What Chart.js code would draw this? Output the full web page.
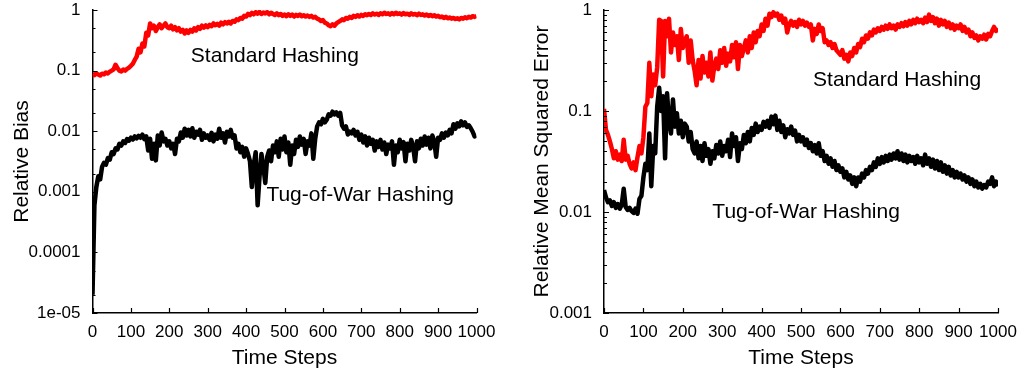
<!DOCTYPE html>
<html>
<head>
<meta charset="utf-8">
<script src="https://cdn.jsdelivr.net/npm/chart.js@4.4.0/dist/chart.umd.min.js"></script>
<style>
  html, body { margin: 0; padding: 0; background: #fff; }
  #wrap { position: relative; width: 1021px; height: 373px; }
  .panel { position: absolute; top: 0; height: 373px; }
  #leftPanel { left: 0; width: 510px; }
  #rightPanel { left: 510px; width: 511px; }
</style>
</head>
<body>
<div id="wrap">
  <div class="panel" id="leftPanel"><canvas id="biasChart"></canvas></div>
  <div class="panel" id="rightPanel"><canvas id="mseChart"></canvas></div>
</div>
<script>
// time steps 0..1000, every 5th step
const steps = Array.from({ length: 201 }, (_, i) => i * 5);

const seriesNames = ["Standard Hashing", "Tug-of-War Hashing"];

// left panel: relative bias
const biasStandard = [
  0.088, 0.084, 0.09, 0.086, 0.083, 0.089, 0.087, 0.093, 0.09, 0.096,
  0.1, 0.105, 0.125, 0.11, 0.1, 0.097, 0.104, 0.1, 0.107, 0.112,
  0.12, 0.13, 0.15, 0.17, 0.23, 0.2, 0.28, 0.25, 0.42, 0.38,
  0.6, 0.5, 0.55, 0.45, 0.52, 0.58, 0.5, 0.55, 0.6, 0.52,
  0.5, 0.55, 0.48, 0.52, 0.46, 0.5, 0.44, 0.47, 0.41, 0.46,
  0.42, 0.47, 0.44, 0.5, 0.46, 0.52, 0.49, 0.55, 0.51, 0.56,
  0.52, 0.57, 0.54, 0.6, 0.56, 0.59, 0.55, 0.62, 0.58, 0.63,
  0.6, 0.64, 0.6, 0.66, 0.64, 0.7, 0.68, 0.74, 0.72, 0.8,
  0.78, 0.86, 0.82, 0.9, 0.85, 0.92, 0.87, 0.93, 0.86, 0.91,
  0.88, 0.92, 0.85, 0.9, 0.86, 0.83, 0.88, 0.82, 0.86, 0.8,
  0.84, 0.79, 0.85, 0.8, 0.84, 0.78, 0.83, 0.8, 0.84, 0.79,
  0.82, 0.78, 0.81, 0.77, 0.8, 0.75, 0.77, 0.72, 0.7, 0.66,
  0.68, 0.62, 0.6, 0.56, 0.54, 0.58, 0.55, 0.6, 0.63, 0.66,
  0.7, 0.68, 0.74, 0.72, 0.77, 0.74, 0.8, 0.77, 0.82, 0.78,
  0.83, 0.8, 0.85, 0.82, 0.86, 0.83, 0.88, 0.84, 0.87, 0.83,
  0.88, 0.85, 0.9, 0.86, 0.88, 0.84, 0.89, 0.85, 0.9, 0.86,
  0.88, 0.84, 0.89, 0.85, 0.87, 0.83, 0.88, 0.84, 0.86, 0.82,
  0.87, 0.83, 0.85, 0.81, 0.84, 0.8, 0.83, 0.79, 0.82, 0.78,
  0.8, 0.76, 0.78, 0.74, 0.77, 0.73, 0.75, 0.72, 0.74, 0.71,
  0.73, 0.7, 0.74, 0.72, 0.76, 0.73, 0.77, 0.75, 0.79, 0.77,
  0.8
];
const biasTugOfWar = [
  0.00002, 0.0006, 0.0012, 0.0018, 0.0016, 0.0026, 0.003, 0.0028, 0.0036, 0.0034,
  0.0045, 0.0042, 0.0052, 0.005, 0.0062, 0.0058, 0.0068, 0.0064, 0.0074, 0.007,
  0.0078, 0.0073, 0.0082, 0.0076, 0.0084, 0.0078, 0.0088, 0.0074, 0.0082, 0.0048,
  0.0075, 0.0035, 0.0062, 0.0033, 0.0085, 0.0058, 0.0095, 0.0068, 0.0075, 0.0058,
  0.0068, 0.0052, 0.0062, 0.0042, 0.0075, 0.0068, 0.0095, 0.0078, 0.011, 0.0085,
  0.0105, 0.0082, 0.0112, 0.0078, 0.0098, 0.0088, 0.0105, 0.0072, 0.0092, 0.0078,
  0.0085, 0.0072, 0.0094, 0.0068, 0.0088, 0.0075, 0.011, 0.0078, 0.0092, 0.0065,
  0.0098, 0.0082, 0.0105, 0.0078, 0.0085, 0.0052, 0.0062, 0.0045, 0.0055, 0.0038,
  0.0052, 0.0042, 0.0032, 0.0012, 0.0028, 0.0045, 0.0006, 0.0018, 0.0042, 0.0026,
  0.0014, 0.0038, 0.0048, 0.0032, 0.0058, 0.0045, 0.0068, 0.0038, 0.0075, 0.005,
  0.0082, 0.0045, 0.0065, 0.0028, 0.0058, 0.0042, 0.0072, 0.0055, 0.0082, 0.006,
  0.0075, 0.0042, 0.0068, 0.0058, 0.0092, 0.0035, 0.0075, 0.012, 0.014, 0.013,
  0.016, 0.014, 0.0155, 0.019, 0.018, 0.021, 0.019, 0.0205, 0.018, 0.02,
  0.0125, 0.011, 0.012, 0.0088, 0.0098, 0.0092, 0.0105, 0.0085, 0.0098, 0.0072,
  0.0088, 0.0065, 0.0082, 0.0058, 0.0078, 0.0062, 0.0072, 0.0048, 0.0068, 0.0055,
  0.0072, 0.005, 0.0065, 0.0042, 0.006, 0.0052, 0.0068, 0.0028, 0.0058, 0.0045,
  0.0072, 0.0052, 0.0066, 0.0032, 0.0062, 0.0048, 0.0072, 0.0055, 0.0032, 0.0068,
  0.0052, 0.0075, 0.0058, 0.0082, 0.006, 0.0078, 0.0052, 0.0085, 0.0068, 0.0038,
  0.0078, 0.0072, 0.0092, 0.0078, 0.0095, 0.0085, 0.0105, 0.0092, 0.013, 0.011,
  0.0135, 0.012, 0.0145, 0.0125, 0.014, 0.0118, 0.0125, 0.0112, 0.0098, 0.0082,
  0.0085
];

// right panel: relative mean squared error
const mseStandard = [
  0.105, 0.065, 0.058, 0.05, 0.042, 0.034, 0.04, 0.033, 0.037, 0.032,
  0.052, 0.033, 0.036, 0.03, 0.027, 0.031, 0.026, 0.035, 0.045, 0.038,
  0.055, 0.11, 0.12, 0.3, 0.14, 0.23, 0.18, 0.27, 0.8, 0.78,
  0.22, 0.78, 0.55, 0.82, 0.38, 0.6, 0.45, 0.55, 0.32, 0.65,
  0.42, 0.5, 0.55, 0.3, 0.5, 0.32, 0.25, 0.18, 0.32, 0.21,
  0.35, 0.24, 0.3, 0.22, 0.38, 0.2, 0.28, 0.33, 0.26, 0.4,
  0.3, 0.42, 0.28, 0.37, 0.31, 0.45, 0.34, 0.48, 0.26, 0.45,
  0.35, 0.42, 0.5, 0.38, 0.55, 0.42, 0.6, 0.48, 0.62, 0.55,
  0.72, 0.62, 0.82, 0.7, 0.92, 0.85, 0.95, 0.88, 0.92, 0.8,
  0.88, 0.75, 0.82, 0.6, 0.72, 0.78, 0.7, 0.76, 0.68, 0.8,
  0.72, 0.78, 0.7, 0.75, 0.68, 0.72, 0.5, 0.65, 0.58, 0.72,
  0.62, 0.66, 0.48, 0.5, 0.45, 0.48, 0.42, 0.46, 0.4, 0.38,
  0.36, 0.4, 0.33, 0.36, 0.31, 0.38, 0.35, 0.42, 0.38, 0.46,
  0.43, 0.52, 0.48, 0.56, 0.52, 0.6, 0.56, 0.64, 0.6, 0.66,
  0.62, 0.68, 0.64, 0.7, 0.65, 0.72, 0.66, 0.7, 0.64, 0.72,
  0.68, 0.74, 0.69, 0.76, 0.7, 0.78, 0.72, 0.8, 0.74, 0.82,
  0.76, 0.8, 0.74, 0.84, 0.76, 0.9, 0.78, 0.85, 0.74, 0.82,
  0.7, 0.8, 0.72, 0.78, 0.68, 0.75, 0.66, 0.72, 0.64, 0.7,
  0.66, 0.72, 0.62, 0.68, 0.6, 0.64, 0.55, 0.6, 0.53, 0.56,
  0.5, 0.55, 0.52, 0.57, 0.51, 0.58, 0.55, 0.62, 0.68, 0.62,
  0.66
];
const mseTugOfWar = [
  0.0165, 0.014, 0.0125, 0.013, 0.0115, 0.0125, 0.011, 0.012, 0.0108, 0.0118,
  0.017, 0.0112, 0.0105, 0.011, 0.0102, 0.0098, 0.0108, 0.0096, 0.0135, 0.0145,
  0.022, 0.03, 0.026, 0.06, 0.018, 0.045, 0.038, 0.11, 0.17, 0.1,
  0.14, 0.034, 0.15, 0.08, 0.06, 0.13, 0.07, 0.095, 0.06, 0.08,
  0.055, 0.075, 0.07, 0.05, 0.062, 0.042, 0.038, 0.05, 0.034, 0.045,
  0.032, 0.048, 0.036, 0.042, 0.03, 0.04, 0.034, 0.046, 0.038, 0.05,
  0.036, 0.045, 0.04, 0.052, 0.035, 0.06, 0.045, 0.055, 0.032, 0.048,
  0.042, 0.058, 0.048, 0.062, 0.05, 0.068, 0.058, 0.075, 0.062, 0.07,
  0.065, 0.078, 0.07, 0.08, 0.068, 0.088, 0.074, 0.09, 0.065, 0.08,
  0.062, 0.072, 0.055, 0.066, 0.06, 0.07, 0.058, 0.064, 0.05, 0.058,
  0.05, 0.055, 0.046, 0.052, 0.043, 0.048, 0.04, 0.046, 0.038, 0.048,
  0.036, 0.04, 0.032, 0.036, 0.03, 0.034, 0.028, 0.032, 0.026, 0.029,
  0.025, 0.027, 0.022, 0.025, 0.021, 0.023, 0.019, 0.022, 0.018, 0.022,
  0.02, 0.024, 0.022, 0.026, 0.024, 0.028, 0.026, 0.031, 0.028, 0.034,
  0.03, 0.035, 0.031, 0.036, 0.032, 0.037, 0.033, 0.038, 0.034, 0.04,
  0.033, 0.038, 0.032, 0.037, 0.031, 0.036, 0.032, 0.035, 0.03, 0.036,
  0.031, 0.034, 0.029, 0.037, 0.03, 0.034, 0.028, 0.033, 0.027, 0.032,
  0.026, 0.031, 0.025, 0.029, 0.024, 0.028, 0.023, 0.026, 0.022, 0.025,
  0.022, 0.024, 0.021, 0.023, 0.02, 0.022, 0.019, 0.021, 0.018, 0.02,
  0.0175, 0.019, 0.017, 0.0185, 0.0175, 0.02, 0.019, 0.022, 0.018, 0.02,
  0.018
];

// log axis ticks: labelled decades plus the unlabelled minor ones
const biasMajorTicks = [1e-5, 1e-4, 1e-3, 1e-2, 1e-1, 1];
const biasTickLabels = ["1e-05", "0.0001", "0.001", "0.01", "0.1", "1"];
const biasMinorSteps = [2, 5];
const mseMajorTicks = [1e-3, 1e-2, 1e-1, 1];
const mseTickLabels = ["0.001", "0.01", "0.1", "1"];
const mseMinorSteps = [2, 3, 4, 5, 6, 7, 8, 9];

const FONT = '"Liberation Sans", Arial, Helvetica, sans-serif';

function allTicks(major, minorSteps) {
  const out = [];
  for (let i = 0; i < major.length; i++) {
    out.push(major[i]);
    if (i < major.length - 1) {
      minorSteps.forEach(m => out.push(parseFloat((major[i] * m).toPrecision(3))));
    }
  }
  return out;
}

// gnuplot style ticks pointing into the plot
const inwardTicks = {
  id: "inwardTicks",
  afterDatasetsDraw(chart) {
    const { ctx, chartArea, scales } = chart;
    ctx.save();
    ctx.strokeStyle = "#000";
    ctx.lineWidth = 1.2;
    ctx.beginPath();
    scales.x.ticks.forEach(t => {
      const px = Math.round(scales.x.getPixelForValue(t.value)) + 0.5;
      ctx.moveTo(px, chartArea.bottom);
      ctx.lineTo(px, chartArea.bottom - 5);
    });
    scales.y.ticks.forEach(t => {
      const py = Math.round(scales.y.getPixelForValue(t.value)) + 0.5;
      const len = t.label ? 5 : 3;
      ctx.moveTo(chartArea.left, py);
      ctx.lineTo(chartArea.left + len, py);
    });
    ctx.stroke();
    ctx.restore();
  }
};

const curveLabels = {
  id: "curveLabels",
  afterDatasetsDraw(chart, args, opts) {
    const { ctx, scales } = chart;
    ctx.save();
    ctx.font = "21px " + FONT;
    ctx.fillStyle = "#000";
    ctx.textAlign = "center";
    ctx.textBaseline = "middle";
    (opts.items || []).forEach(it => {
      ctx.fillText(it.text, scales.x.getPixelForValue(it.x), scales.y.getPixelForValue(it.y));
    });
    ctx.restore();
  }
};

function buildChart(canvasId, cfg) {
  const ctx = document.getElementById(canvasId).getContext("2d");
  const tickValues = allTicks(cfg.major, cfg.minor);
  return new Chart(ctx, {
    type: "line",
    data: {
      labels: steps,
      datasets: [
        {
          label: seriesNames[1],
          data: cfg.tug,
          borderColor: "#000000",
          borderWidth: 4.5,
          pointRadius: 0,
          tension: 0,
          borderJoinStyle: "round"
        },
        {
          label: seriesNames[0],
          data: cfg.std,
          borderColor: "#ff0000",
          borderWidth: 4.5,
          pointRadius: 0,
          tension: 0,
          borderJoinStyle: "round"
        }
      ]
    },
    options: {
      responsive: true,
      maintainAspectRatio: false,
      animation: false,
      devicePixelRatio: 1,
      layout: { padding: { top: 10, right: cfg.padRight, left: 0, bottom: 0 } },
      plugins: {
        legend: { display: false },
        tooltip: { enabled: false },
        curveLabels: { items: cfg.texts }
      },
      scales: {
        x: {
          type: "linear",
          min: 0,
          max: 1000,
          grid: { display: false, drawTicks: false },
          border: { display: true, color: "#000", width: 1.5 },
          ticks: {
            stepSize: 100,
            color: "#000",
            padding: 9,
            autoSkip: false,
            maxRotation: 0,
            font: { family: FONT, size: 17 },
            callback: value => String(value)
          },
          title: { display: true, text: "Time Steps", color: "#000", font: { family: FONT, size: 21 }, padding: { top: 0, bottom: 2 } },
          afterFit(scale) {
            scale.height = 60;
            scale.paddingLeft = 0;
            scale.paddingRight = 0;
          }
        },
        y: {
          type: "logarithmic",
          min: cfg.major[0],
          max: cfg.major[cfg.major.length - 1],
          grid: { display: false, drawTicks: false },
          border: { display: true, color: "#000", width: 1.5 },
          ticks: {
            color: "#000",
            padding: 12,
            autoSkip: false,
            font: { family: FONT, size: 17 },
            callback(value) {
              const k = cfg.major.findIndex(m => Math.abs(m - value) / m < 1e-6);
              return k >= 0 ? cfg.labels[k] : "";
            }
          },
          afterBuildTicks(scale) {
            scale.ticks = tickValues.map(v => ({ value: v }));
          },
          title: { display: true, text: cfg.yTitle, color: "#000", font: { family: FONT, size: 21 }, padding: { top: cfg.titlePad, bottom: 0 } },
          afterFit(scale) {
            scale.width = cfg.axisWidth;
            scale.paddingTop = 0;
            scale.paddingBottom = 0;
          }
        }
      }
    },
    plugins: [inwardTicks, curveLabels]
  });
}

buildChart("biasChart", {
  std: biasStandard,
  tug: biasTugOfWar,
  major: biasMajorTicks,
  labels: biasTickLabels,
  minor: biasMinorSteps,
  yTitle: "Relative Bias",
  axisWidth: 92.5,
  padRight: 33.5,
  titlePad: 10,
  texts: [
    { text: seriesNames[0], x: 475, y: 0.17 },
    { text: seriesNames[1], x: 697, y: 0.00087 }
  ]
});

buildChart("mseChart", {
  std: mseStandard,
  tug: mseTugOfWar,
  major: mseMajorTicks,
  labels: mseTickLabels,
  minor: mseMinorSteps,
  yTitle: "Relative Mean Squared Error",
  axisWidth: 94,
  padRight: 23,
  titlePad: 20,
  texts: [
    { text: seriesNames[0], x: 744, y: 0.204 },
    { text: seriesNames[1], x: 513, y: 0.0099 }
  ]
});
</script>
</body>
</html>
